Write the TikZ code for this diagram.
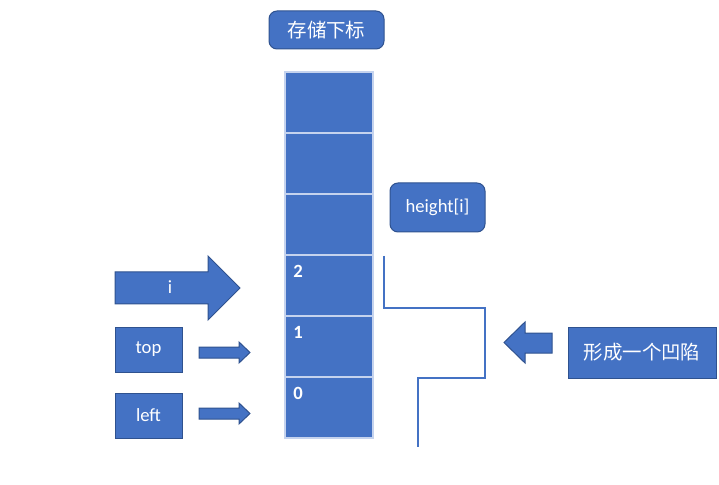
\documentclass[tikz,border=0pt]{standalone}
\usepackage{fontspec}
\setmainfont{Carlito}
\newfontfamily\cjk{Noto Sans CJK SC}
\definecolor{fillblue}{HTML}{4472C4}
\definecolor{edgeblue}{HTML}{2F528F}
\definecolor{sepblue}{HTML}{C5D3EE}
\newcommand{\cjktext}{\cjk\fontsize{14.6}{16}\selectfont}
\begin{document}
\begin{tikzpicture}[x=0.75pt,y=-0.75pt,
  box/.style={fill=fillblue,draw=edgeblue,line width=0.75pt,text=white,font=\fontsize{14}{16}\selectfont,inner sep=0pt},
  rbox/.style={box,rounded corners=6pt},
  cell/.style={fill=fillblue,draw=sepblue,line width=0.9pt,minimum width=66pt,minimum height=45.75pt,inner sep=0pt},
  num/.style={text=white,font=\fontsize{14}{16}\selectfont\bfseries,anchor=center,inner sep=0pt},
  arr/.style={fill=fillblue,draw=edgeblue,line width=0.75pt},
  stair/.style={draw=fillblue,line width=0.8pt}]
\useasboundingbox (0,0) rectangle (719,485);
% title
\node[rbox,minimum width=86.25pt,minimum height=28.5pt] (title) at (326.5,30) {\cjktext 存储下标};
% column cells
\node[cell] (c5) at (329,102.5) {};
\node[cell] (c4) at (329,163.5) {};
\node[cell] (c3) at (329,224.5) {};
\node[cell] (c2) at (329,285.5) {};
\node[cell] (c1) at (329,346.5) {};
\node[cell] (c0) at (329,407.5) {};
\node[num] (n2) at (298,271) {2};
\node[num] (n1) at (298,332) {1};
\node[num] (n0) at (298,393) {0};
% height[i]
\node[rbox,minimum width=71.25pt,minimum height=36.75pt] (h) at (437.5,207.5) {height[i]};
% staircase
\draw[stair] (384,256) -- (384,308) -- (485,308) -- (485,378) -- (418,378) -- (418,447);
% big arrow i
\draw[arr] (115,272) -- (208,272) -- (208,256) -- (240,288) -- (208,320) -- (208,304) -- (115,304) -- cycle;
\node[text=white,font=\fontsize{14}{16}\selectfont,inner sep=0pt] (i) at (170,287) {i};
% top / left boxes
\node[box,minimum width=50.25pt,minimum height=33.75pt] (top) at (148.5,349.5) {top};
\node[box,minimum width=50.25pt,minimum height=33.75pt] (left) at (148.5,415.5) {left};
% small arrows
\draw[arr] (199,347) -- (239,347) -- (239,342) -- (250,352.5) -- (239,363) -- (239,358) -- (199,358) -- cycle;
\draw[arr] (199,408) -- (239,408) -- (239,403) -- (250,413.5) -- (239,424) -- (239,419) -- (199,419) -- cycle;
% left pointing arrow
\draw[arr] (552,333) -- (525,333) -- (525,322) -- (504,342.5) -- (525,363) -- (525,353) -- (552,353) -- cycle;
% right box
\node[box,minimum width=111pt,minimum height=38.25pt] (dent) at (642,352.5) {\cjktext 形成一个凹陷};
\end{tikzpicture}
\end{document}
